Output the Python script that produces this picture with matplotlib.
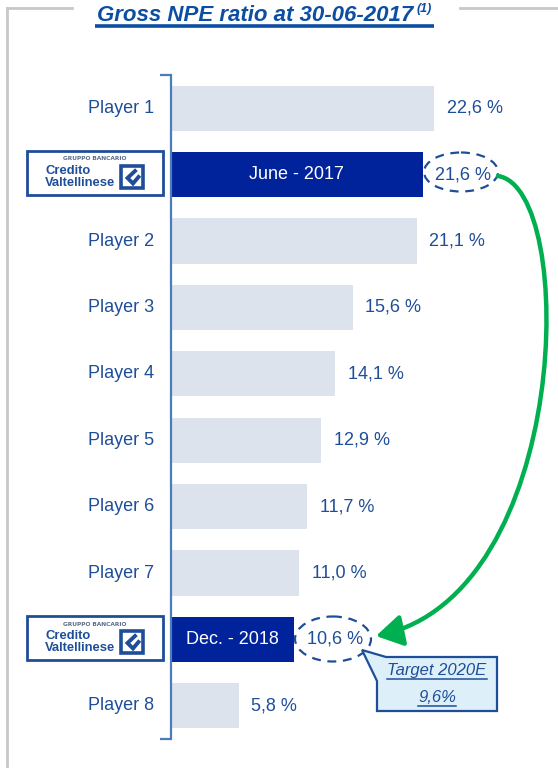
import matplotlib
matplotlib.use("Agg")
import matplotlib.pyplot as plt
from matplotlib.patches import Rectangle, Ellipse, Polygon, FancyArrowPatch
from matplotlib.path import Path
from matplotlib.lines import Line2D

# ---- data -------------------------------------------------------------
categories = ["Player 1", "June - 2017", "Player 2", "Player 3", "Player 4",
              "Player 5", "Player 6", "Player 7", "Dec. - 2018", "Player 8"]
values = [22.6, 21.6, 21.1, 15.6, 14.1, 12.9, 11.7, 11.0, 10.6, 5.8]
highlight = [False, True, False, False, False, False, False, False, True, False]
title = "Gross NPE ratio at 30-06-2017"
target_label = "Target 2020E"
target_value = "9,6%"

FONT = ["Liberation Sans", "DejaVu Sans"]
plt.rcParams["font.family"] = FONT

TXT = "#1F4E99"
LIGHT = "#DCE3ED"
DARK = "#00239C"
AXIS = "#4A7EBB"
GREEN = "#00B050"
GRAY = "#C8C8C8"

W, H = 558, 768
fig = plt.figure(figsize=(W / 100, H / 100), dpi=100)

# ---- bar chart ---------------------------------------------------------
x0, top, bot, right = 171, 75, 739, 558
ax = fig.add_axes([x0 / W, 1 - bot / H, (right - x0) / W, (bot - top) / H])
pos = list(range(len(categories)))
colors = [DARK if h else LIGHT for h in highlight]
ax.barh(pos, values, height=0.68, color=colors, zorder=2)
ax.set_xlim(0, (right - x0) / 11.65)
ax.set_ylim(len(categories) - 0.5, -0.5)
for s in ("top", "right", "bottom"):
    ax.spines[s].set_visible(False)
ax.spines["left"].set_color(AXIS)
ax.spines["left"].set_linewidth(1.6)
ax.set_xticks([])
ax.set_yticks([-0.5, len(categories) - 0.5])
ax.set_yticklabels([])
ax.tick_params(axis="y", length=8, width=1.6, color=AXIS, direction="out")
ax.patch.set_alpha(0)

for i, (c, v, h) in enumerate(zip(categories, values, highlight)):
    lab = f"{v:.1f}".replace(".", ",") + " %"
    ax.annotate(lab, (v, i), xytext=(9, 0), textcoords="offset points",
                ha="left", va="center", fontsize=13, color=TXT)
    if h:
        ax.text(v / 2, i, c, ha="center", va="center", fontsize=13, color="white")
    else:
        ax.annotate(c, (0, i), xytext=(-12, 0), textcoords="offset points",
                    ha="right", va="center", fontsize=13, color=TXT)

# ---- overlay in pixel coordinates -------------------------------------
ov = fig.add_axes([0, 0, 1, 1], zorder=5)
ov.set_xlim(0, W)
ov.set_ylim(H, 0)
ov.axis("off")
ov.patch.set_alpha(0)

# frame lines
ov.add_line(Line2D([7, 7], [8, H], color=GRAY, lw=2))
ov.add_line(Line2D([7, 72], [8, 8], color=GRAY, lw=2))
ov.add_line(Line2D([460, W], [8, 8], color=GRAY, lw=2))

# title
fig.canvas.draw()
r = fig.canvas.get_renderer()
t = ov.text(97, 21, title, fontsize=16, fontweight="bold", style="italic",
            color="#0B4EA2", ha="left", va="baseline")
bb = t.get_window_extent(r)
sup = ov.text(bb.x1 + 3, 12, "(1)", fontsize=9, fontweight="bold", style="italic",
              color="#0B4EA2", ha="left", va="baseline")
bb2 = sup.get_window_extent(r)
ov.add_line(Line2D([95, bb2.x1 + 2], [25.5, 25.5], color="#0B4EA2", lw=2.6,
                   solid_capstyle="butt"))

# logos
def logo(cy):
    x1, x2 = 27, 163
    y1, y2 = cy - 22, cy + 22
    ov.add_patch(Rectangle((x1, y1), x2 - x1, y2 - y1, fill=True, fc="white",
                           ec="#1F4E99", lw=2))
    ov.text(95, y1 + 8, "GRUPPO BANCARIO", fontsize=4.2, fontweight="bold",
            color="#5A6E8C", ha="center", va="center",
            family=["DejaVu Sans"])
    ov.text(45, y1 + 20, "Credito", fontsize=9.4, fontweight="bold",
            color="#1F4E99", ha="left", va="center")
    ov.text(45, y1 + 32, "Valtellinese", fontsize=9.4, fontweight="bold",
            color="#1F4E99", ha="left", va="center")
    s0x, s0y, sz = 121, y1 + 15, 22
    ov.add_patch(Rectangle((s0x, s0y), sz, sz, fc="white", ec="#1F4E99", lw=2.6))
    ov.add_line(Line2D([s0x + 14, s0x + 6.5, s0x + 12, s0x + 17.5],
                       [s0y + 5, s0y + 12, s0y + 17.5, s0y + 11],
                       color="#1F4E99", lw=2.8, solid_joinstyle="miter"))

logo(173)
logo(638)

# dashed ellipses around the highlighted values
for (cx, cy, ew, eh) in [(461, 172, 74, 39), (333, 639, 76, 45)]:
    ov.add_patch(Ellipse((cx, cy), ew, eh, fill=False, ec="#1F4E99", lw=1.6,
                         ls=(0, (4, 3))))

# green arrow
verts = [(498, 176), (578, 188), (572, 595), (376, 636)]
path = Path(verts, [Path.MOVETO, Path.CURVE4, Path.CURVE4, Path.CURVE4])
arrow = FancyArrowPatch(path=path, arrowstyle="-|>,head_length=10,head_width=6",
                        color=GREEN, lw=3.2, mutation_scale=1.6)
ov.add_patch(arrow)

# target call-out
callout = Polygon([(362, 650), (386, 657), (497, 657), (497, 711),
                   (377, 711), (377, 681)], closed=True,
                  fc="#DDF0FA", ec="#1F4E99", lw=1.6)
ov.add_patch(callout)
for txt, yy in [(target_label, 670), (target_value, 697)]:
    tt = ov.text(437, yy, txt, fontsize=12, style="italic", color=TXT,
                 ha="center", va="center")
    b = tt.get_window_extent(r)
    ov.add_line(Line2D([b.x0, b.x1], [yy + 8.5, yy + 8.5], color=TXT, lw=1.1))

fig.savefig("out.png", dpi=100)
